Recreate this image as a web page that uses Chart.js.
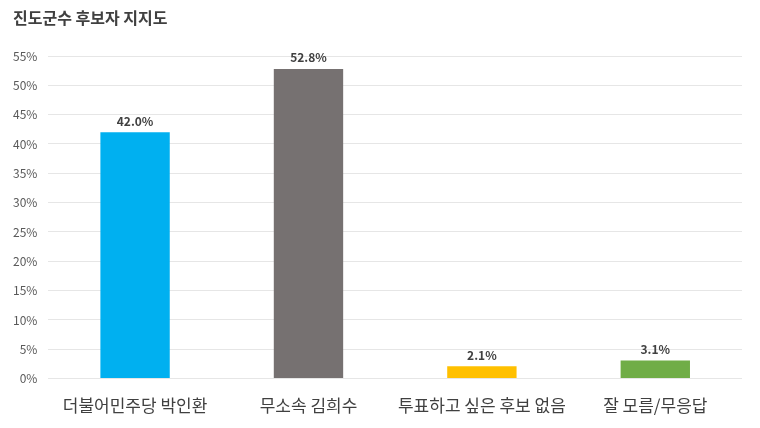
<!DOCTYPE html>
<html>
<head>
<meta charset="utf-8">
<script src="https://cdn.jsdelivr.net/npm/chart.js@4"></script>
<style>
  body { margin: 0; background: #fff; }
  #wrap { width: 760px; height: 428px; }
</style>
</head>
<body>
<div id="wrap"><canvas id="myChart"></canvas></div>
<script>
var chartTitle = '진도군수 후보자 지지도';
var categories = ['더불어민주당 박인환', '무소속 김희수', '투표하고 싶은 후보 없음', '잘 모름/무응답'];
var support = [42.0, 52.8, 2.1, 3.1];
var barColors = ['#00b0f0', '#767171', '#ffc000', '#70ad47'];
var yTicks = [0, 5, 10, 15, 20, 25, 30, 35, 40, 45, 50, 55];

var FONT = '"Noto Sans CJK KR", "Noto Sans", sans-serif';

// title drawn at the far left, and value labels above bars
var extras = {
    id: 'extras',
    afterDraw: function(chart) {
        var ctx = chart.ctx;
        ctx.save();
        ctx.font = 'bold 16px ' + FONT;
        ctx.fillStyle = '#404040';
        ctx.textAlign = 'left';
        ctx.textBaseline = 'middle';
        ctx.fillText(chartTitle, 13, 18);
        ctx.restore();
    },
    afterDatasetsDraw: function(chart) {
        var ctx = chart.ctx;
        var meta = chart.getDatasetMeta(0);
        ctx.save();
        ctx.font = 'bold 12px ' + FONT;
        ctx.fillStyle = '#404040';
        ctx.textAlign = 'center';
        ctx.textBaseline = 'bottom';
        meta.data.forEach(function(bar, i) {
            ctx.fillText(support[i].toFixed(1) + '%', bar.x, bar.y - 5);
        });
        ctx.restore();
    }
};

var ctx = document.getElementById('myChart').getContext('2d');
var myChart = new Chart(ctx, {
    type: 'bar',
    data: {
        labels: categories,
        datasets: [{
            data: support,
            backgroundColor: barColors,
            barPercentage: 0.8,
            categoryPercentage: 0.5
        }]
    },
    options: {
        responsive: true,
        maintainAspectRatio: false,
        animation: false,
        layout: { padding: { left: 2, right: 18, top: 56, bottom: 3 } },
        plugins: {
            legend: { display: false },
            tooltip: { enabled: false },
            title: { display: false }
        },
        scales: {
            x: {
                grid: { display: false },
                border: { display: false },
                ticks: {
                    color: '#404040',
                    font: { family: FONT, size: 17 },
                    padding: 9,
                    maxRotation: 0
                }
            },
            y: {
                min: 0,
                max: 55,
                afterBuildTicks: function(axis) {
                    axis.ticks = yTicks.map(function(v) { return { value: v }; });
                },
                border: { display: false },
                grid: { color: '#e6e6e6', drawTicks: false },
                ticks: {
                    color: '#595959',
                    font: { family: FONT, size: 12 },
                    padding: 11,
                    callback: function(v) { return v + '%'; }
                }
            }
        }
    },
    plugins: [extras]
});
</script>
</body>
</html>
